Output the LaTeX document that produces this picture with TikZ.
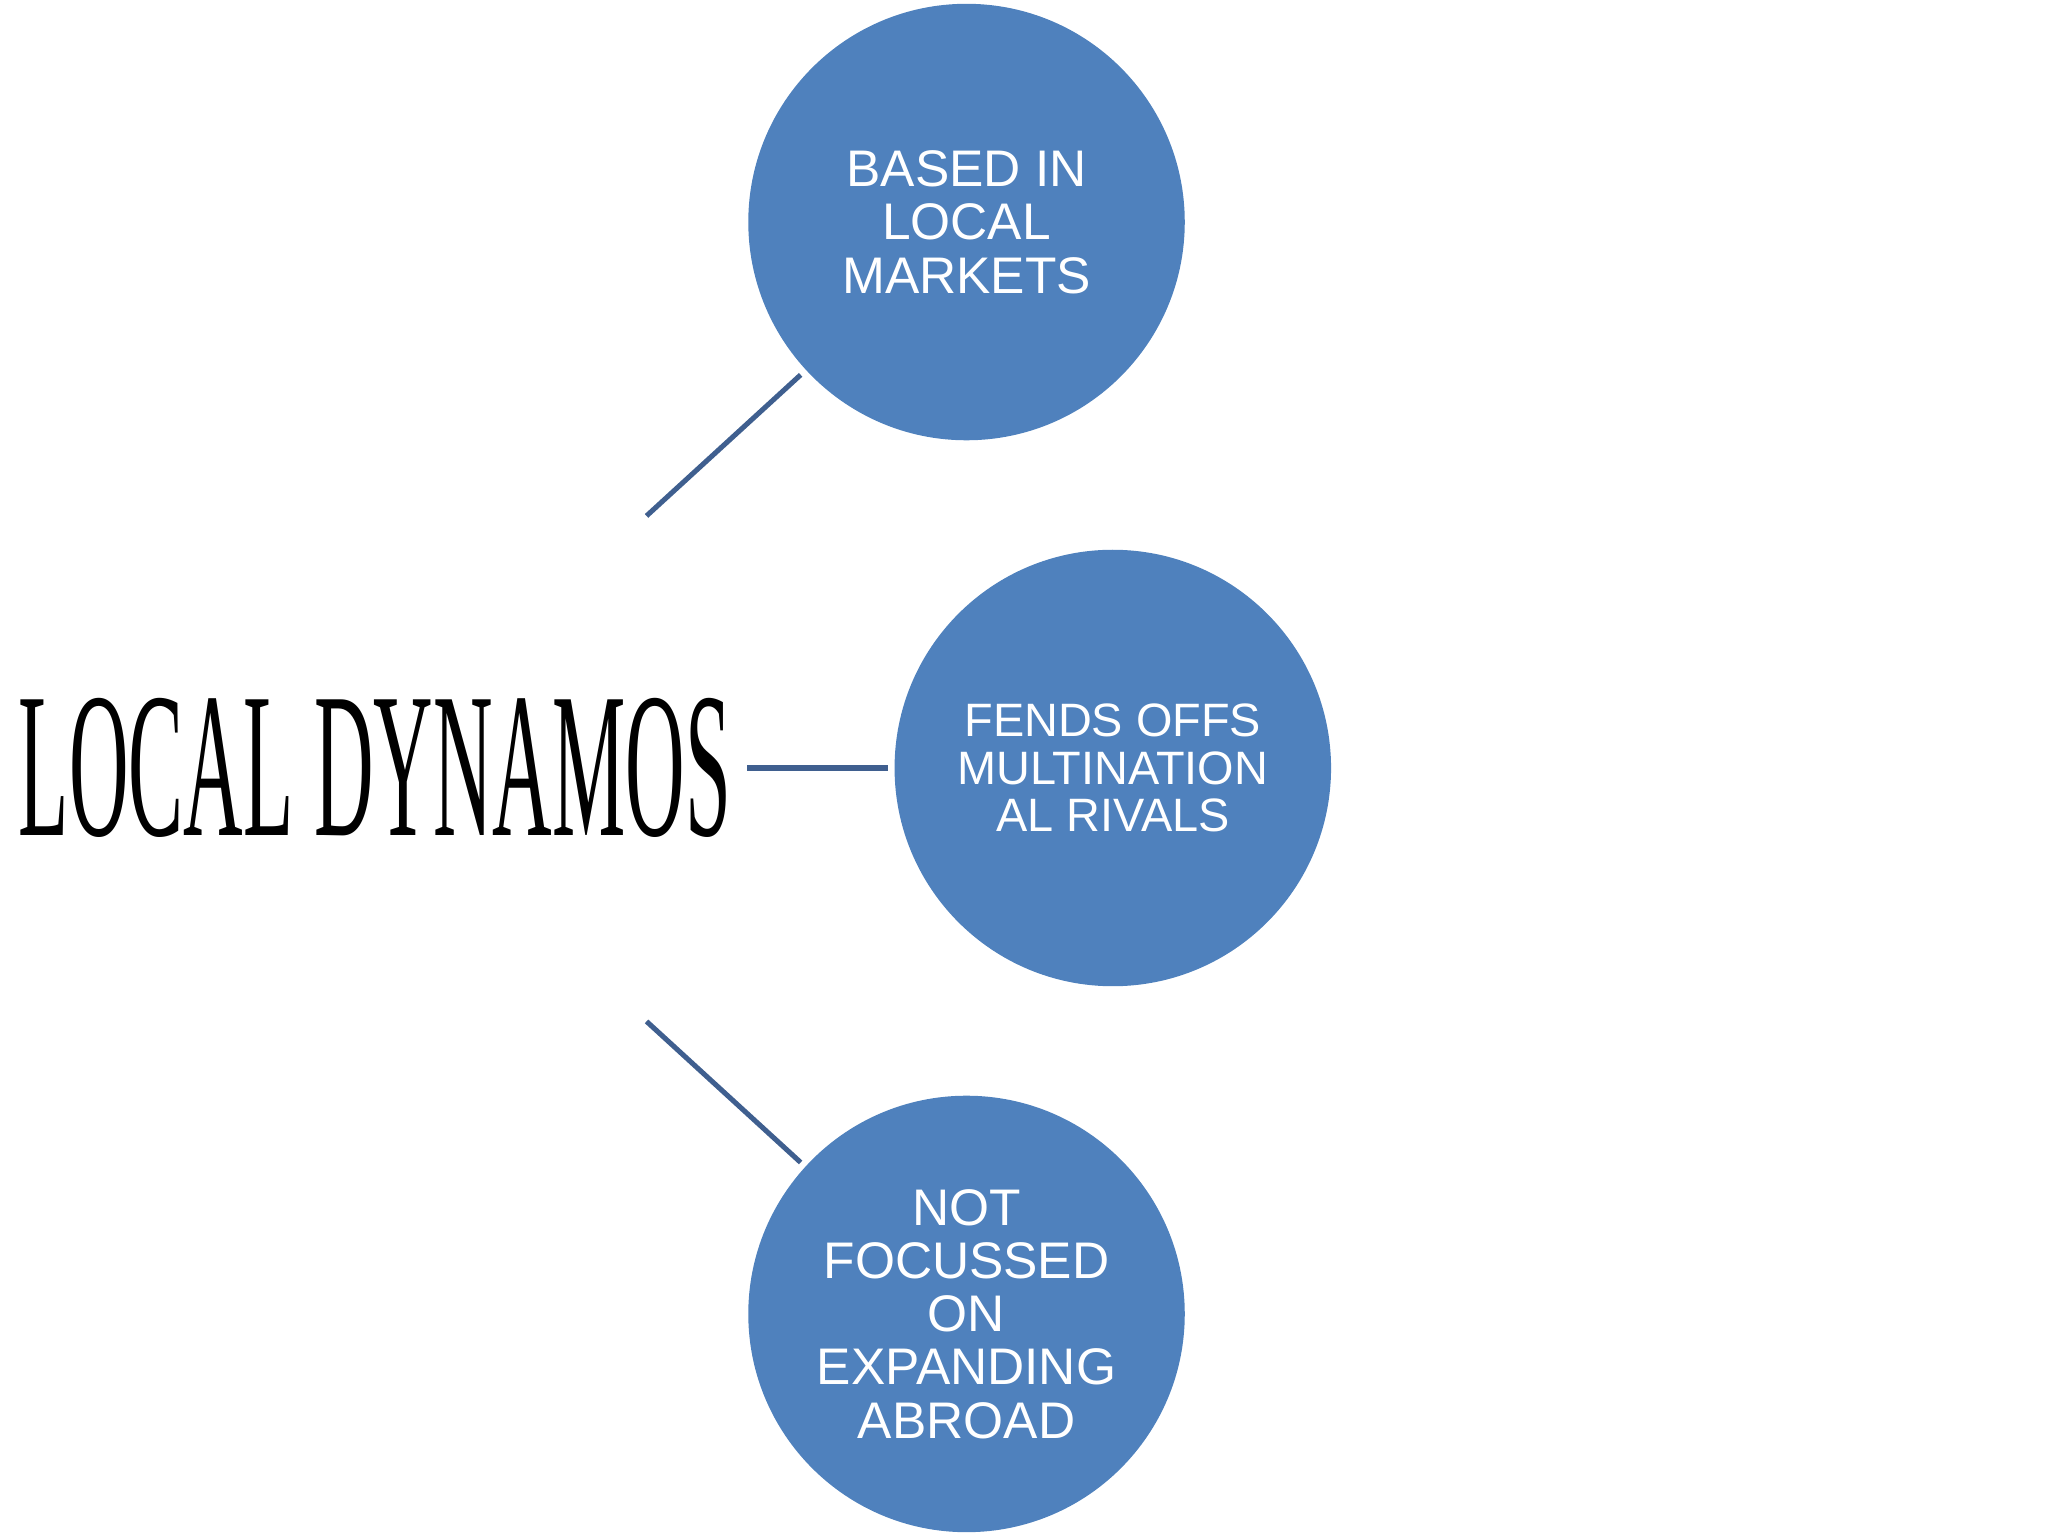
\documentclass[tikz,border=0pt]{standalone}
\usepackage{fontspec}
\setmainfont{Liberation Sans}
\newfontfamily\serifx{Liberation Serif}
\begin{document}
\begin{tikzpicture}[x=0.01cm,y=-0.01cm,
  bubble/.style={circle,fill=bub,minimum size=3.34cm,inner sep=0pt,align=center,text=white},
  link/.style={draw=lnk,line width=1.1pt}]
\definecolor{bub}{HTML}{4F81BD}
\definecolor{lnk}{HTML}{3F5F8F}
\useasboundingbox (0,0) rectangle (1568,1176);
\node[bubble,font=\fontsize{11.2}{11.6}\selectfont] (a) at (740,170) {BASED IN\\LOCAL\\MARKETS};
\node[bubble,font=\fontsize{10.2}{10.3}\selectfont] (b) at (852,588) {FENDS OFFS\\MULTINATION\\AL RIVALS};
\node[bubble,font=\fontsize{11.2}{11.6}\selectfont] (c) at (740,1006) {NOT\\FOCUSSED\\ON\\EXPANDING\\ABROAD};
\node[inner sep=0pt] (t) at (287,588) {\resizebox{5.45cm}{1.05cm}{\serifx LOCAL DYNAMOS}};
\coordinate (a1) at (495,395); \coordinate (a2) at (613,287);
\coordinate (b1) at (572,588); \coordinate (b2) at (680,588);
\coordinate (c1) at (495,782); \coordinate (c2) at (613,890);
\draw[link] (a1) -- (a2);
\draw[link] (b1) -- (b2);
\draw[link] (c1) -- (c2);
\end{tikzpicture}
\end{document}
